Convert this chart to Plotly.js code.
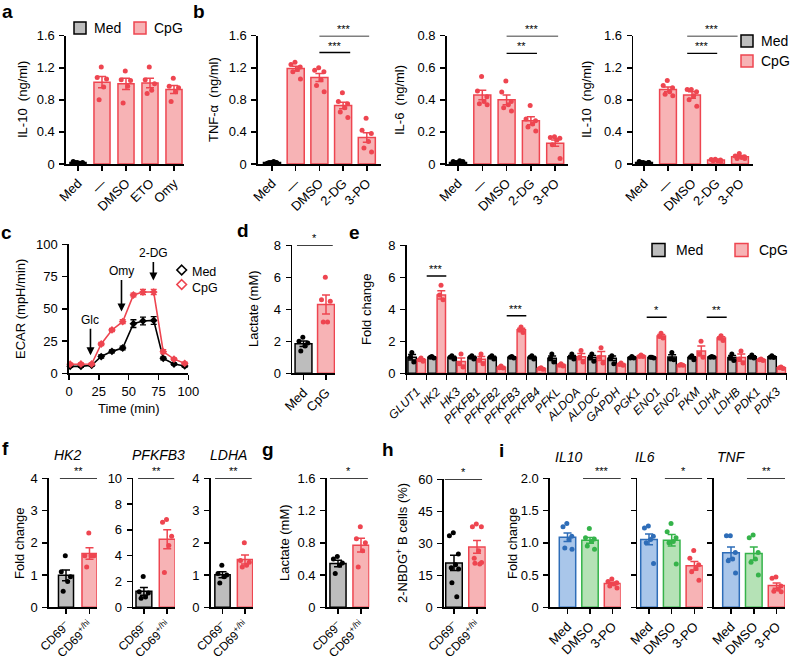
<!DOCTYPE html>
<html><head><meta charset="utf-8">
<script src="https://cdn.plot.ly/plotly-3.0.1.min.js"></script>
<style>html,body{margin:0;padding:0;background:#fff}</style>
</head><body><div id="chart" style="width:790px;height:659px"></div>
<script>
// ---------------- DATA ----------------
// panel a
const aCats = ['Med','—','DMSO','ETO','Omy'];
const aMean = [0.02, 1.02, 1.00, 1.01, 0.93];
const aSem  = [0.005, 0.07, 0.07, 0.06, 0.05];
const aPts  = [[0.02,0.03,0.02,0.01,0.02],[1.21,1.08,1.06,0.96,0.80],[1.16,1.05,1.04,0.97,0.76],[1.21,1.05,1.00,0.92,0.88],[1.07,0.97,0.95,0.90,0.78]];
// panel b
const bCats = ['Med','—','DMSO','2-DG','3-PO'];
const bTnfMean = [0.02, 1.19, 1.08, 0.73, 0.33];
const bTnfSem  = [0.004, 0.03, 0.05, 0.04, 0.06];
const bTnfPts  = [[0.02,0.01,0.02,0.03,0.02,0.01],[1.27,1.24,1.21,1.18,1.15,1.06],[1.20,1.17,1.15,1.05,0.98,0.90],[0.89,0.78,0.75,0.70,0.65,0.58],[0.57,0.42,0.38,0.28,0.20,0.15]];
const bIl6Mean = [0.01, 0.43, 0.40, 0.27, 0.13];
const bIl6Sem  = [0.003, 0.03, 0.03, 0.025, 0.02];
const bIl6Pts  = [[0.01,0.015,0.01,0.02,0.01,0.015],[0.545,0.455,0.42,0.39,0.375,0.37],[0.517,0.449,0.39,0.37,0.35,0.33],[0.365,0.28,0.27,0.25,0.23,0.205],[0.17,0.165,0.16,0.15,0.12,0.035]];
const bIl10Mean = [0.02, 0.93, 0.86, 0.05, 0.09];
const bIl10Sem  = [0.004, 0.03, 0.04, 0.007, 0.015];
const bIl10Pts  = [[0.02,0.03,0.02,0.01,0.02,0.02],[1.04,0.98,0.95,0.90,0.87,0.85],[0.93,0.93,0.90,0.85,0.80,0.72],[0.06,0.055,0.05,0.04,0.04,0.03],[0.13,0.10,0.09,0.08,0.07,0.07]];
// panel c
const cTime   = [1,10,19,27,36,45,54,62,71,79,88,97];
const cMed    = [5.4,5.4,6.2,13,17,19.6,38.5,40.6,41,11.6,7.2,5.7];
const cMedErr = [0.8,0.8,0.8,1.2,1.2,1.5,3,3,3,1.2,0.8,0.8];
const cCpg    = [7,7.2,7.2,22.7,33.6,40,60.7,63,63,16.8,11,7.7];
const cCpgErr = [0.8,0.8,0.8,1.2,1.2,1.5,1.5,2,2,1.5,1,1];
const cMarks  = [{t:18, v:14, label:'Glc'},{t:44, v:48, label:'Omy'},{t:70.7, v:72, label:'2-DG'}];
// panel d
const dCats = ['Med','CpG'];
const dMean = [1.85, 4.30];
const dSem  = [0.17, 0.60];
const dPts  = [[2.25,2.0,1.9,1.7,1.4],[6.0,4.6,4.5,3.2,3.2]];
// panel e
const eGenes = ['GLUT1','HK2','HK3','PFKFB1','PFKFB2','PFKFB3','PFKFB4','PFKL','ALDOA','ALDOC','GAPDH','PGK1','ENO1','ENO2','PKM','LDHA','LDHB','PDK1','PDK3'];
const eMedMean = [1.0,1.0,1.0,1.0,1.0,1.0,1.0,0.94,1.03,0.98,0.94,0.98,0.98,1.02,0.98,1.02,0.98,1.03,1.03];
const eMedSem  = [0.17,0.03,0.06,0.06,0.06,0.03,0.06,0.14,0.09,0.13,0.14,0.03,0.02,0.14,0.06,0.02,0.13,0.06,0.04];
const eMedPts  = [[1.3,1.0,0.7],[1.05,1.0,0.95],[1.1,1.0,0.9],[1.1,1.0,0.9],[1.1,1.0,0.9],[1.05,1.0,0.95],[1.1,1.0,0.9],[1.2,0.92,0.7],[1.2,1.0,0.9],[1.2,1.0,0.75],[1.1,0.92,0.6],[1.05,0.95,0.95],[1.0,1.0,0.95],[1.3,0.9,0.85],[1.1,1.0,0.85],[1.05,1.0,1.0],[1.2,0.95,0.8],[1.15,1.0,0.95],[1.1,1.0,0.98]];
const eCpgMean = [0.85,4.9,0.73,0.88,0.38,2.72,0.3,0.52,1.04,1.08,0.57,1.08,2.33,0.52,1.4,2.2,0.98,0.85,0.35];
const eCpgSem  = [0.06,0.26,0.23,0.17,0.04,0.1,0.03,0.04,0.2,0.28,0.04,0.03,0.09,0.02,0.3,0.09,0.22,0.03,0.03];
const eCpgPts  = [[0.95,0.85,0.75],[5.5,4.9,4.6],[1.2,0.6,0.4],[1.2,0.85,0.6],[0.45,0.35,0.33],[2.9,2.7,2.55],[0.35,0.3,0.25],[0.6,0.5,0.45],[1.42,1.0,0.7],[1.6,1.0,0.65],[0.65,0.55,0.5],[1.15,1.05,1.05],[2.5,2.3,2.2],[0.55,0.5,0.5],[2.0,1.2,1.0],[2.35,2.2,2.05],[1.4,0.9,0.65],[0.9,0.85,0.8],[0.4,0.35,0.3]];
// panel f
const fTitles = ['HK2','PFKFB3','LDHA'];
const fCats = ['CD69<sup>–</sup>','CD69<sup>+/hi</sup>'];
const fHk2Mean = [0.99,1.67], fHk2Sem = [0.17,0.18];
const fHk2Pts = [[1.6,1.1,0.95,0.8,0.5],[2.3,1.6,1.6,1.6,1.25]];
const fPfkMean = [1.24,5.28], fPfkSem = [0.30,0.74];
const fPfkPts = [[2.38,1.2,1.1,0.8,0.7],[6.8,6.6,5.5,4.8,2.7]];
const fLdhMean = [1.01,1.48], fLdhSem = [0.09,0.14];
const fLdhPts = [[1.3,1.05,1.0,0.95,0.75],[2.0,1.45,1.4,1.3,1.25]];
// panel g
const gMean = [0.544,0.77], gSem = [0.04,0.085];
const gPts = [[0.63,0.6,0.55,0.52,0.42],[1.0,0.85,0.8,0.7,0.5]];
// panel h
const hMean = [20.8,28.3], hSem = [3.6,3.0];
const hPts = [[35,33.5,25,20,18.5,18,11.5,5],[39,37.8,37.8,26.5,23,21,20.6,20.3]];
// panel i
const iCats = ['Med','DMSO','3-PO'];
const iTitles = ['IL10','IL6','TNF'];
const iIl10Mean = [1.087,1.038,0.368], iIl10Sem = [0.065,0.045,0.02];
const iIl10Pts = [[1.3,1.25,1.1,1.05,0.92,0.9],[1.22,1.08,1.06,1.02,0.95,0.9],[0.44,0.4,0.38,0.36,0.33,0.3]];
const iIl6Mean = [1.053,1.04,0.645], iIl6Sem = [0.085,0.09,0.065];
const iIl6Pts = [[1.26,1.23,1.1,1.05,1.0,0.68],[1.3,1.17,1.08,1.02,1.0,0.67],[0.88,0.76,0.66,0.6,0.55,0.42]];
const iTnfMean = [0.845,0.833,0.337], iTnfSem = [0.09,0.1,0.04];
const iTnfPts = [[1.11,1.11,0.85,0.75,0.72,0.53],[1.12,1.08,0.85,0.75,0.7,0.5],[0.47,0.45,0.33,0.28,0.25,0.24]];
// tick labels
const yt16 = [0,0.4,0.8,1.2,1.6], yt16t = ['0','0.4','0.8','1.2','1.6'];
const yt08 = [0,0.2,0.4,0.6,0.8], yt08t = ['0','0.2','0.4','0.6','0.8'];
const yt100 = [0,25,50,75,100];
const yt8 = [0,2,4,6,8];
const yt4 = [0,1,2,3,4];
const yt10 = [0,2,4,6,8,10];
const yt60 = [0,15,30,45,60];
const yt2 = [0,0.5,1,1.5,2], yt2t = ['0','0.5','1.0','1.5','2.0'];

// ---------------- STYLE / HELPERS ----------------
const W=790, H=659;
const FONT='Arial, "Liberation Sans", Helvetica, sans-serif';
const RED='#ee4550', REDF='#f7b3b5', GRAYF='#bdbdbd', BLK='#000000';
const BLUE='#2e6db8', BLUEF='#a9c6ea', GREEN='#35b34a', GREENF='#b5e2b6';
const JIT=[-0.03,-0.2,0.19,0.07,-0.12,0.2,-0.09,0.12];
const traces=[], dots=[], shapes=[], annotations=[];
const layout={width:W,height:H,margin:{l:0,r:0,t:0,b:0},showlegend:false,paper_bgcolor:'#fff',
  plot_bgcolor:'rgba(0,0,0,0)',font:{family:FONT,size:13,color:'#000'},shapes,annotations,hovermode:false};
const X=p=>p/W, Y=p=>1-p/H;
let nAx=0;
function axes(o){
  nAx++; const s = nAx===1?'':String(nAx);
  const xr = o.xr || [(o.x0-o.first)/o.sp,(o.x1-o.first)/o.sp];
  const common={showline:true,linecolor:'#000',linewidth:1.6,ticks:'outside',ticklen:5,tickwidth:1.5,tickcolor:'#000',showgrid:false,zeroline:false,fixedrange:true};
  layout['xaxis'+s]=Object.assign({},common,{domain:[X(o.x0),X(o.x1)],range:xr,anchor:'y'+s,tickmode:'array',
    tickvals:o.xv,ticktext:o.xt,tickangle:(o.xangle===undefined?-45:o.xangle),tickfont:{size:o.xfs||13},ticklabeloverflow:'allow'},o.xextra||{});
  const ya=Object.assign({},common,{domain:[Y(o.yBot),Y(o.yTop)],range:o.yr,anchor:'x'+s,tickmode:'array',
    tickvals:o.yv,tickfont:{size:13},ticklabelstandoff:2});
  if(o.yt){ya.ticktext=o.yt;} else if(o.yt===null){ya.showticklabels=false;}
  layout['yaxis'+s]=ya;
  return {x:'x'+s,y:'y'+s};
}
function barSet(ax,i,mean,sem,pts,fill,line,width,spread){
  traces.push({type:'bar',x:[i],y:[mean],width:width,marker:{color:fill,line:{color:line,width:1.5}},
    error_y:{type:'data',array:[sem],color:line,thickness:1.5,width:4},xaxis:ax.x,yaxis:ax.y});
  dots.push({type:'scatter',mode:'markers',x:pts.map((v,k)=>i+JIT[k%JIT.length]*spread),y:pts,
    marker:{size:5,color:line},cliponaxis:false,xaxis:ax.x,yaxis:ax.y});
}
function colPanel(ax,means,sems,pts,styles,width,spread){
  means.forEach((m,i)=>barSet(ax,i,m,sems[i],pts[i],styles[i][0],styles[i][1],width,spread));
}
function sig(ax,xa,xb,yv,txt){
  shapes.push({type:'line',xref:ax.x,yref:ax.y,x0:xa,x1:xb,y0:yv,y1:yv,line:{color:'#000',width:1.4}});
  annotations.push({xref:ax.x,yref:ax.y,x:(xa+xb)/2,y:yv,text:txt,showarrow:false,yanchor:'bottom',font:{size:11},yshift:-1});
}
function ytitle(px,py,txt){annotations.push({xref:'paper',yref:'paper',x:X(px),y:Y(py),text:txt,textangle:-90,showarrow:false,xanchor:'center',yanchor:'middle',font:{size:13}});}
function text(px,py,txt,size,anchor){annotations.push({xref:'paper',yref:'paper',x:X(px),y:Y(py),text:txt,showarrow:false,xanchor:anchor||'left',yanchor:'middle',font:{size:size||13}});}
function box(px0,py0,px1,py1,fill,line){shapes.push({type:'rect',xref:'paper',yref:'paper',x0:X(px0),x1:X(px1),y0:Y(py1),y1:Y(py0),fillcolor:fill,line:{color:line,width:1.5}});}
function diamond(cx,cy,r,line){shapes.push({type:'path',xref:'paper',yref:'paper',
  path:`M ${X(cx)} ${Y(cy-r)} L ${X(cx+r)} ${Y(cy)} L ${X(cx)} ${Y(cy+r)} L ${X(cx-r)} ${Y(cy)} Z`,line:{color:line,width:1.6},fillcolor:'rgba(0,0,0,0)'});}
const idx = arr => arr.map((c,i)=>i);
const MED=[GRAYF,BLK], CPG=[REDF,RED];

// ---------------- PANEL a ----------------
let ax=axes({x0:66,x1:184,first:78,sp:24,yTop:35.7,yBot:164,yr:[0,1.6],yv:yt16,yt:yt16t,xv:idx(aCats),xt:aCats});
colPanel(ax,aMean,aSem,aPts,[MED,CPG,CPG,CPG,CPG],0.67,1);
ytitle(22,100,'IL-10  (ng/ml)');
box(74,22,86,34,GRAYF,BLK); text(92,28.5,'Med',14);
box(134,22,146,34,REDF,RED); text(152,28.5,'CpG',14);

// ---------------- PANEL b ----------------
ax=axes({x0:258,x1:381,first:272,sp:23.7,yTop:35.7,yBot:164,yr:[0,1.6],yv:yt16,yt:yt16t,xv:idx(bCats),xt:bCats});
colPanel(ax,bTnfMean,bTnfSem,bTnfPts,[MED,CPG,CPG,CPG,CPG],0.72,1);
sig(ax,2,4.1,1.6,'***'); sig(ax,2,3.3,1.39,'***');
ytitle(213,100,'TNF-α  (ng/ml)');
ax=axes({x0:446.7,x1:568,first:458,sp:24.3,yTop:35.7,yBot:164,yr:[0,0.8],yv:yt08,yt:yt08t,xv:idx(bCats),xt:bCats});
colPanel(ax,bIl6Mean,bIl6Sem,bIl6Pts,[MED,CPG,CPG,CPG,CPG],0.7,1);
sig(ax,2,4.12,0.8,'***'); sig(ax,2,3.25,0.69,'**');
ytitle(399,100,'IL-6  (ng/ml)');
ax=axes({x0:633.3,x1:753,first:644,sp:24,yTop:35.7,yBot:164,yr:[0,1.6],yv:yt16,yt:yt16t,xv:idx(bCats),xt:bCats});
colPanel(ax,bIl10Mean,bIl10Sem,bIl10Pts,[MED,CPG,CPG,CPG,CPG],0.7,1);
sig(ax,1.8,3.9,1.6,'***'); sig(ax,1.8,3.05,1.38,'***');
ytitle(586,100,'IL-10  (ng/ml)');
box(741,35,753,47,GRAYF,BLK); text(759,41,'Med',14);
box(741,55,753,67,REDF,RED); text(759,61,'CpG',14);

// ---------------- PANEL c ----------------
ax=axes({x0:69,x1:188.3,xr:[0,100],yTop:244.3,yBot:373.3,yr:[0,100],yv:yt100,xv:yt100,xangle:0});
traces.push({type:'scatter',mode:'lines+markers',x:cTime,y:cMed,line:{color:BLK,width:1.6},marker:{symbol:'diamond',size:6,color:BLK},
  error_y:{type:'data',array:cMedErr,color:BLK,thickness:1.3,width:3},cliponaxis:false,xaxis:ax.x,yaxis:ax.y});
traces.push({type:'scatter',mode:'lines+markers',x:cTime,y:cCpg,line:{color:RED,width:1.6},marker:{symbol:'diamond',size:6,color:RED},
  error_y:{type:'data',array:cCpgErr,color:RED,thickness:1.3,width:3},cliponaxis:false,xaxis:ax.x,yaxis:ax.y});
const cAyOff=[-35,-40,-27];
cMarks.forEach((m,k)=>annotations.push({xref:ax.x,yref:ax.y,x:m.t,y:m.v,text:m.label,showarrow:true,arrowhead:2,arrowsize:1,arrowwidth:1.6,
  arrowcolor:'#000',ax:0,ay:cAyOff[k],font:{size:12},standoff:0}));
ytitle(21,309,'ECAR (mpH/min)');
text(128.7,408,'Time (min)',13,'center');
diamond(181.7,270,4.8,BLK); text(190,272,'Med',12.5);
diamond(181.7,284.5,4.8,RED); text(190,288,'CpG',12.5);

// ---------------- PANEL d ----------------
ax=axes({x0:292.3,x1:335,first:303.5,sp:22.5,yTop:245.3,yBot:373.3,yr:[0,8],yv:yt8,xv:idx(dCats),xt:dCats});
colPanel(ax,dMean,dSem,dPts,[MED,CPG],0.75,1);
sig(ax,-0.29,1.3,8,'*');
ytitle(254,309,'Lactate (mM)');

// ---------------- PANEL e ----------------
const eIdx = idx(eGenes);
ax=axes({x0:406.7,x1:786.7,xr:[-0.5,eGenes.length-0.5],yTop:245.3,yBot:373.3,yr:[0,8],yv:yt8,xv:eIdx,
  xt:eGenes.map(g=>'<i>'+g+'</i>'),xfs:12,
  xextra:{tickcolor:'rgba(0,0,0,0)',minor:{tickmode:'array',tickvals:eIdx.map(i=>i-0.5).concat([eGenes.length-0.5]),ticks:'outside',ticklen:5,tickwidth:1.5,tickcolor:'#000'}}});
eGenes.forEach((g,i)=>{
  barSet(ax,i-0.23,eMedMean[i],eMedSem[i],eMedPts[i],GRAYF,BLK,0.42,0.45);
  barSet(ax,i+0.23,eCpgMean[i],eCpgSem[i],eCpgPts[i],REDF,RED,0.42,0.45);
});
sig(ax,0.5,1.48,6.08,'***'); sig(ax,4.5,5.48,3.6,'***'); sig(ax,11.5,12.5,3.5,'*'); sig(ax,14.5,15.5,3.5,'**');
ytitle(367,309,'Fold change');
box(652,243.5,665,256.5,GRAYF,BLK); text(674,250,'Med',14);
box(735,243.5,748,256.5,REDF,RED); text(757,250,'CpG',14);

// ---------------- PANEL f ----------------
const CDF=12;
ax=axes({x0:49,x1:97,first:66,sp:23.5,yTop:478.3,yBot:607.3,yr:[0,4],yv:yt4,xv:idx(fCats),xt:fCats,xfs:CDF});
colPanel(ax,fHk2Mean,fHk2Sem,fHk2Pts,[MED,CPG],0.64,1); sig(ax,-0.26,1.32,4,'**');
ax=axes({x0:133.3,x1:175,first:143.9,sp:23.3,yTop:478.3,yBot:607.3,yr:[0,10],yv:yt10,xv:idx(fCats),xt:fCats,xfs:CDF});
colPanel(ax,fPfkMean,fPfkSem,fPfkPts,[MED,CPG],0.68,1); sig(ax,-0.25,1.3,10,'**');
ax=axes({x0:210.7,x1:253,first:222.5,sp:22.5,yTop:478.3,yBot:607.3,yr:[0,4],yv:yt4,xv:idx(fCats),xt:fCats,xfs:CDF});
colPanel(ax,fLdhMean,fLdhSem,fLdhPts,[MED,CPG],0.68,1); sig(ax,-0.33,1.3,4,'**');
ytitle(19,543,'Fold change');
[67.5,158,228].forEach((cx,k)=>text(cx,455,'<i>'+fTitles[k]+'</i>',14,'center'));

// ---------------- PANEL g ----------------
ax=axes({x0:326.7,x1:369.3,first:338,sp:23,yTop:478.3,yBot:607.3,yr:[0,1.6],yv:yt16,yt:yt16t,xv:idx(fCats),xt:fCats,xfs:CDF});
colPanel(ax,gMean,gSem,gPts,[MED,CPG],0.7,1); sig(ax,-0.35,1.3,1.6,'*');
ytitle(284,543,'Lactate (mM)');

// ---------------- PANEL h ----------------
ax=axes({x0:444,x1:485.7,first:454,sp:23,yTop:479.3,yBot:607.3,yr:[0,60],yv:yt60,xv:idx(fCats),xt:fCats,xfs:CDF});
colPanel(ax,hMean,hSem,hPts,[MED,CPG],0.72,1); sig(ax,-0.4,1.22,60,'*');
ytitle(402,543,'2-NBDG<sup>+</sup> B cells (%)');

// ---------------- PANEL i ----------------
const IST=[[BLUEF,BLUE],[GREENF,GREEN],CPG];
ax=axes({x0:550,x1:620.7,first:567.5,sp:22.5,yTop:478.3,yBot:607.3,yr:[0,2],yv:yt2,yt:yt2t,xv:idx(iCats),xt:iCats});
colPanel(ax,iIl10Mean,iIl10Sem,iIl10Pts,IST,0.73,1); sig(ax,0.69,2.38,2,'***');
ax=axes({x0:637.3,x1:702.7,first:649,sp:22.7,yTop:478.3,yBot:607.3,yr:[0,2],yv:yt2,yt:null,xv:idx(iCats),xt:iCats});
colPanel(ax,iIl6Mean,iIl6Sem,iIl6Pts,IST,0.73,1); sig(ax,0.7,2.34,2,'*');
ax=axes({x0:714,x1:785,first:731,sp:22.8,yTop:478.3,yBot:607.3,yr:[0,2],yv:yt2,yt:null,xv:idx(iCats),xt:iCats});
colPanel(ax,iTnfMean,iTnfSem,iTnfPts,IST,0.73,1); sig(ax,0.7,2.38,2,'**');
ytitle(512,543,'Fold change');
[568,645,731].forEach((cx,k)=>text(cx,457,'<i>'+iTitles[k]+'</i>',14,'center'));

// ---------------- panel letters ----------------
[['a',7,12],['b',199,12],['c',6,232],['d',243,230],['e',354,232],['f',5,448],['g',268,449],['h',388,449],['i',502,450]]
  .forEach(l=>text(l[1],l[2],'<b>'+l[0]+'</b>',19,'center'));

Plotly.newPlot('chart',traces.concat(dots),layout,{staticPlot:true,displayModeBar:false});
</script></body></html>
